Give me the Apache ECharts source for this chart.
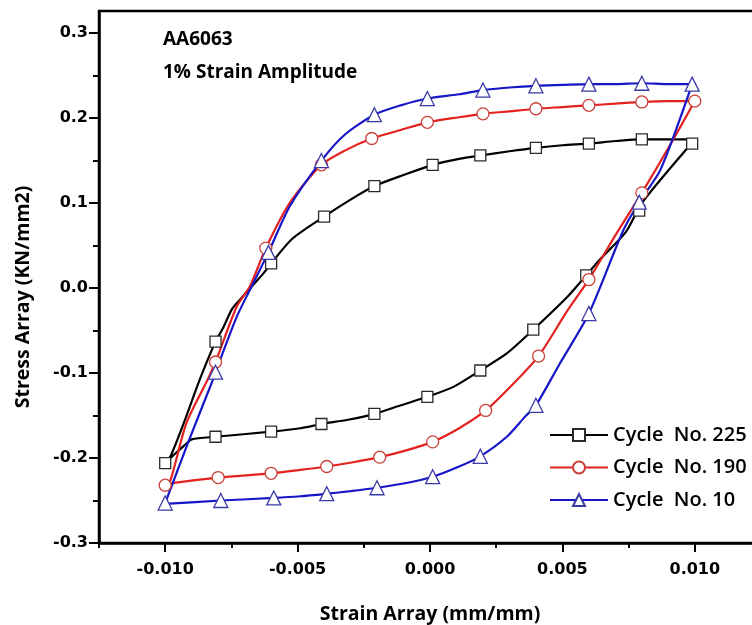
<!DOCTYPE html>
<html>
<head>
<meta charset="utf-8">
<script src="https://cdn.jsdelivr.net/npm/echarts@6/dist/echarts.min.js"></script>
<style>
html,body{margin:0;padding:0;background:#fff;}
#chart{width:752px;height:625px;}
</style>
</head>
<body>
<div id="chart"></div>
<script>
// ---- Data ----
const seriesNames = ['Cycle  No. 225', 'Cycle  No. 190', 'Cycle  No. 10'];
const xTitle = 'Strain Array (mm/mm)';
const yTitle = 'Stress Array (KN/mm2)';
const noteLines = ['AA6063', '1% Strain Amplitude'];

// Cycle No. 225 (black) - full loop curve
const strain225 = [-0.0100,-0.0098,-0.0093,-0.0087,-0.0081,-0.0078,-0.0075,-0.0073,-0.0063,-0.0060,-0.0052,-0.0040,-0.0030,-0.0021,-0.0010,0.0001,0.0011,0.0019,0.0030,0.0040,0.0050,0.0060,0.0070,0.0080,0.0090,0.0097,0.0099,
  0.0097,0.0080,0.0074,0.0064,0.0059,0.0052,0.0039,0.0029,0.0019,0.0009,-0.0001,-0.0011,-0.0021,-0.0031,-0.0041,-0.0049,-0.0060,-0.0081,-0.0090,-0.0092,-0.0097,-0.0100];
const stress225 = [-0.206,-0.198,-0.159,-0.108,-0.063,-0.046,-0.026,-0.018,0.017,0.029,0.058,0.084,0.104,0.120,0.133,0.145,0.152,0.156,0.161,0.165,0.168,0.170,0.173,0.175,0.175,0.175,0.170,
  0.164,0.100,0.066,0.033,0.015,-0.010,-0.049,-0.077,-0.097,-0.116,-0.128,-0.138,-0.148,-0.155,-0.160,-0.165,-0.169,-0.175,-0.178,-0.183,-0.197,-0.206];
const markStrain225 = [-0.0100,-0.0081,-0.0060,-0.0040,-0.0021,0.0001,0.0019,0.0040,0.0060,0.0080,0.0099,0.0079,0.0059,0.0039,0.0019,-0.0001,-0.0021,-0.0041,-0.0060,-0.0081];
const markStress225 = [-0.206,-0.063,0.029,0.084,0.120,0.145,0.156,0.165,0.170,0.175,0.170,0.091,0.015,-0.049,-0.097,-0.128,-0.148,-0.160,-0.169,-0.175];

// Cycle No. 190 (red)
const strain190 = [-0.0100,-0.0098,-0.0092,-0.0084,-0.0081,-0.0073,-0.0068,-0.0062,-0.0053,-0.0041,-0.0032,-0.0022,-0.0011,-0.0001,0.0011,0.0020,0.0030,0.0040,0.0050,0.0060,0.0070,0.0080,0.0090,0.0100,
  0.0091,0.0080,0.0070,0.0060,0.0052,0.0041,0.0031,0.0021,0.0011,0.0001,-0.0009,-0.0019,-0.0029,-0.0039,-0.0049,-0.0060,-0.0080,-0.0096,-0.0100];
const stress190 = [-0.232,-0.226,-0.159,-0.108,-0.087,-0.022,0.002,0.047,0.100,0.145,0.162,0.176,0.186,0.195,0.201,0.205,0.208,0.211,0.213,0.215,0.217,0.219,0.220,0.220,
  0.170,0.112,0.062,0.010,-0.026,-0.080,-0.114,-0.144,-0.165,-0.181,-0.191,-0.199,-0.205,-0.210,-0.214,-0.218,-0.223,-0.229,-0.232];
const markStrain190 = [-0.0100,-0.0081,-0.0062,-0.0041,-0.0022,-0.0001,0.0020,0.0040,0.0060,0.0080,0.0100,0.0080,0.0060,0.0041,0.0021,0.0001,-0.0019,-0.0039,-0.0060,-0.0080];
const markStress190 = [-0.232,-0.087,0.047,0.145,0.176,0.195,0.205,0.211,0.215,0.219,0.220,0.112,0.010,-0.080,-0.144,-0.181,-0.199,-0.210,-0.218,-0.223];

// Cycle No. 10 (blue)
const strain10 = [-0.0100,-0.0091,-0.0082,-0.0081,-0.0073,-0.0068,-0.0061,-0.0053,-0.0041,-0.0032,-0.0021,-0.0011,-0.0001,0.0011,0.0020,0.0030,0.0040,0.0050,0.0060,0.0070,0.0080,0.0090,0.0099,
  0.0087,0.0079,0.0073,0.0060,0.0049,0.0040,0.0036,0.0029,0.0019,0.0011,0.0001,-0.0010,-0.0020,-0.0030,-0.0039,-0.0049,-0.0059,-0.0079,-0.0100];
const stress10 = [-0.253,-0.179,-0.108,-0.099,-0.034,-0.002,0.042,0.096,0.150,0.181,0.204,0.215,0.223,0.228,0.233,0.236,0.238,0.239,0.240,0.240,0.241,0.240,0.240,
  0.139,0.101,0.068,-0.030,-0.089,-0.138,-0.151,-0.175,-0.198,-0.210,-0.222,-0.230,-0.235,-0.239,-0.242,-0.245,-0.247,-0.250,-0.254];
const markStrain10 = [-0.0100,-0.0081,-0.0061,-0.0041,-0.0021,-0.0001,0.0020,0.0040,0.0060,0.0080,0.0099,0.0079,0.0060,0.0040,0.0019,0.0001,-0.0020,-0.0039,-0.0059,-0.0079];
const markStress10 = [-0.253,-0.099,0.042,0.150,0.204,0.223,0.233,0.238,0.240,0.241,0.240,0.101,-0.030,-0.138,-0.198,-0.222,-0.235,-0.242,-0.247,-0.250];

// Axis ticks / labels
const xMajorTicks = [-0.010,-0.005,0.000,0.005,0.010];
const xMinorTicks = [-0.0125,-0.0075,-0.0025,0.0025,0.0075,0.0125];
const yMajorTicks = [-0.3,-0.2,-0.1,0.0,0.1,0.2,0.3];
const yMinorTicks = [-0.25,-0.15,-0.05,0.05,0.15,0.25];

// ---- Chart ----
function zip(a, b) { return a.map((v, i) => [v, b[i]]); }

const lineColors = ['#000000', '#e3221f', '#1616c8'];
const markBorders = ['#2a2a2a', '#c9403b', '#3a3aa6'];
const symbols = ['rect', 'circle', 'triangle'];
const symSizes = [11, 12, 14];
const curves = [[strain225, stress225], [strain190, stress190], [strain10, stress10]];
const marks = [[markStrain225, markStress225], [markStrain190, markStress190], [markStrain10, markStress10]];

const series = [];
seriesNames.forEach((name, i) => {
  series.push({
    type: 'line', name: name, xAxisIndex: 0, yAxisIndex: 0,
    data: zip(curves[i][0], curves[i][1]),
    smooth: 0.25, showSymbol: false, symbol: symbols[i], symbolSize: symSizes[i],
    lineStyle: { color: lineColors[i], width: 2.2 },
    itemStyle: { color: '#fff', borderColor: markBorders[i], borderWidth: 1.3 },
    z: 2 + i, animation: false, silent: true
  });
});
seriesNames.forEach((name, i) => {
  series.push({
    type: 'scatter', name: name, xAxisIndex: 0, yAxisIndex: 0,
    data: zip(marks[i][0], marks[i][1]),
    symbol: symbols[i], symbolSize: symSizes[i],
    itemStyle: { color: '#fff', borderColor: markBorders[i], borderWidth: 1.3, opacity: 1 },
    z: 6, animation: false, silent: true
  });
});

const tickFont = { fontFamily: 'DejaVu Sans', fontWeight: 'bold', fontSize: 16, color: '#000' };
const nameFont = { fontFamily: 'Open Sans', fontWeight: 'bold', fontSize: 19.5, color: '#000' };

const option = {
  backgroundColor: '#fff',
  animation: false,
  grid: {
    left: 99, top: 11, right: -9, bottom: 82,
    show: true, borderColor: '#000', borderWidth: 2.5, backgroundColor: 'transparent',
    containLabel: false, outerBoundsMode: 'none'
  },
  legend: {
    data: seriesNames,
    orient: 'vertical', left: 549, top: 425,
    itemWidth: 58, itemHeight: 15, itemGap: 12.5, padding: 0,
    textStyle: { fontFamily: 'Open Sans', fontWeight: 600, fontSize: 20, color: '#000', lineHeight: 20 },
    selectedMode: false
  },
  xAxis: [
    {
      type: 'value', position: 'bottom', min: -0.0125, max: 0.0125,
      axisLine: { show: true, onZero: false, lineStyle: { color: '#000', width: 2.5 } },
      axisTick: { show: true, customValues: xMajorTicks, length: 9, lineStyle: { color: '#000', width: 2 } },
      axisLabel: Object.assign({ show: true, customValues: xMajorTicks, margin: 19, formatter: v => v.toFixed(3) }, tickFont),
      splitLine: { show: false },
      name: xTitle, nameLocation: 'middle', nameGap: 61, nameMoveOverlap: false,
      nameTextStyle: nameFont
    },
    {
      type: 'value', position: 'bottom', min: -0.0125, max: 0.0125,
      axisLine: { show: false, onZero: false },
      axisTick: { show: true, customValues: xMinorTicks, length: 5, lineStyle: { color: '#000', width: 2 } },
      axisLabel: { show: false },
      splitLine: { show: false }
    }
  ],
  yAxis: [
    {
      type: 'value', position: 'left', min: -0.3, max: 0.326,
      axisLine: { show: true, onZero: false, lineStyle: { color: '#000', width: 2.5 } },
      axisTick: { show: true, customValues: yMajorTicks, length: 10, lineStyle: { color: '#000', width: 2 } },
      axisLabel: Object.assign({ show: true, customValues: yMajorTicks, margin: 11, formatter: v => v.toFixed(1) }, tickFont),
      splitLine: { show: false }
    },
    {
      type: 'value', position: 'left', min: -0.3, max: 0.326,
      axisLine: { show: false, onZero: false },
      axisTick: { show: true, customValues: yMinorTicks, length: 6, lineStyle: { color: '#000', width: 2 } },
      axisLabel: { show: false },
      splitLine: { show: false }
    }
  ],
  graphic: [
    { type: 'text', left: 163, top: 30, style: { text: noteLines[0], font: 'bold 19px "Open Sans"', fill: '#000' } },
    { type: 'text', left: 163, top: 63, style: { text: noteLines[1], font: 'bold 19px "Open Sans"', fill: '#000' } },
    { type: 'text', x: 23, y: 297, rotation: Math.PI / 2,
      style: { text: yTitle, font: 'bold 19.5px "Open Sans"', fill: '#000', align: 'center', verticalAlign: 'middle' } }
  ],
  series: series
};

const chart = echarts.init(document.getElementById('chart'), null, { renderer: 'canvas' });
chart.setOption(option);
</script>
</body>
</html>
